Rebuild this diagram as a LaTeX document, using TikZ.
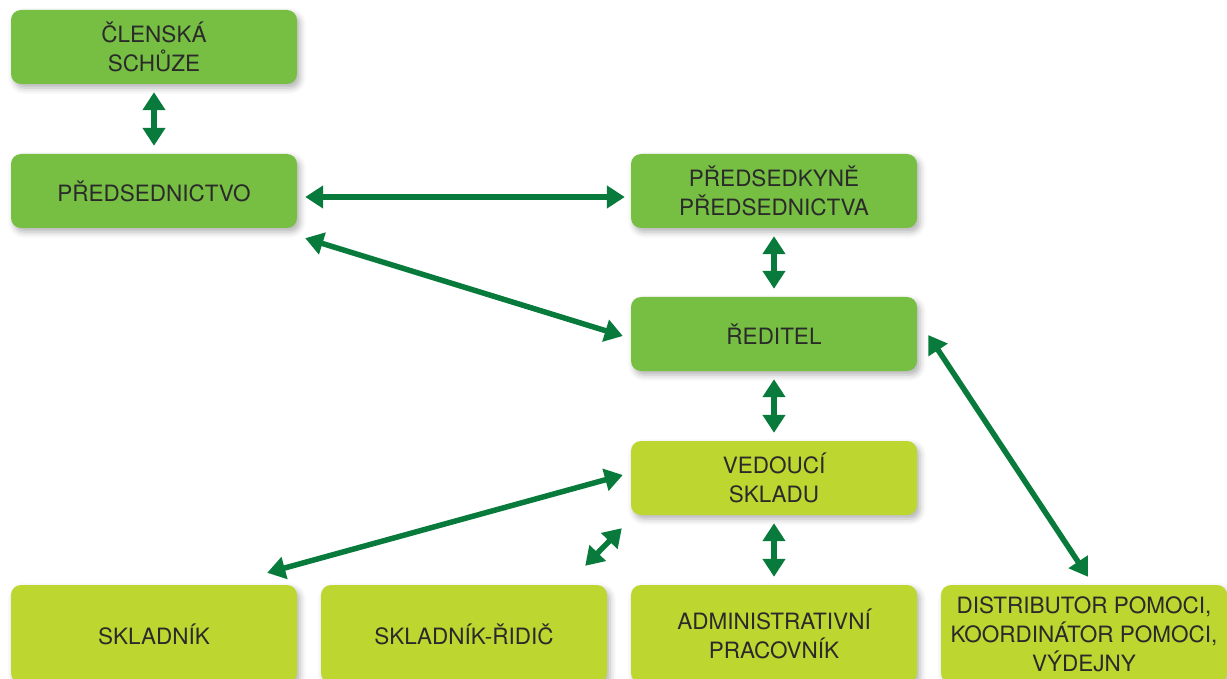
\documentclass[tikz,border=0pt]{standalone}
\usepackage{fontspec}
\setmainfont{TeX Gyre Heros}
\usetikzlibrary{arrows.meta,calc,shadows.blur}
\definecolor{gD}{HTML}{76BF43}
\definecolor{gL}{HTML}{BDD630}
\definecolor{aG}{HTML}{087A3C}
\definecolor{txt}{HTML}{2A2A2A}
\begin{document}
\begin{tikzpicture}[x=1pt,y=-1pt,
  box/.style={rounded corners=10pt, minimum width=286pt, minimum height=74pt, align=center,
    text=txt, font=\fontsize{22.5}{29}\selectfont, inner sep=0pt,
    blur shadow={shadow xshift=3pt, shadow yshift=-4pt, shadow blur radius=6pt, shadow opacity=30}},
  dk/.style={box, fill=gD},
  lt/.style={box, fill=gL},
  lowbox/.style={lt, minimum height=98pt},
  arr/.style={draw=aG, line width=5.5pt,
    {Triangle[width=22pt,length=18pt]}-{Triangle[width=22pt,length=18pt]}},
  vgap/.style={shorten <=8pt, shorten >=8pt}
]
\useasboundingbox (0,0) rectangle (1227,679);
\clip (0,0) rectangle (1227,679);
\node[dk] (clen) at (154,47) {ČLENSKÁ\\SCHŮZE};
\node[dk] (pred) at (154,191) {PŘEDSEDNICTVO};
\node[dk] (predk) at (774,191) {PŘEDSEDKYNĚ\\PŘEDSEDNICTVA};
\node[dk] (red) at (774,334) {ŘEDITEL};
\node[lt] (ved) at (774,478) {VEDOUCÍ\\SKLADU};
\node[lowbox] (skl) at (154,634) {SKLADNÍK};
\node[lowbox] (sklr) at (464,634) {SKLADNÍK-ŘIDIČ};
\node[lowbox] (adm) at (774,634) {ADMINISTRATIVNÍ\\PRACOVNÍK};
\node[lowbox] (dist) at (1084,634) {DISTRIBUTOR POMOCI,\\KOORDINÁTOR POMOCI,\\VÝDEJNY};

\draw[arr, vgap] (clen.south) -- (pred.north);
\draw[arr] ($(pred.east)+(8,6)$) -- ($(predk.west)+(-6,6)$);
\draw[arr] ($(pred.south east)+(8,10)$) -- ($(red.west)+(-8,2)$);
\draw[arr, vgap] (predk.south) -- (red.north);
\draw[arr, vgap] (red.south) -- (ved.north);
\draw[arr] ($(red.east)+(11,1)$) -- ($(dist.north)+(4,-8)$);
\draw[arr] ($(ved.west)+(-8,-3)$) -- ($(skl.north east)+(-30,-12)$);
\draw[arr] ($(ved.south west)+(-9,13)$) -- ($(sklr.north east)+(-22,-19)$);
\draw[arr, vgap] (ved.south) -- (adm.north);
\end{tikzpicture}
\end{document}
